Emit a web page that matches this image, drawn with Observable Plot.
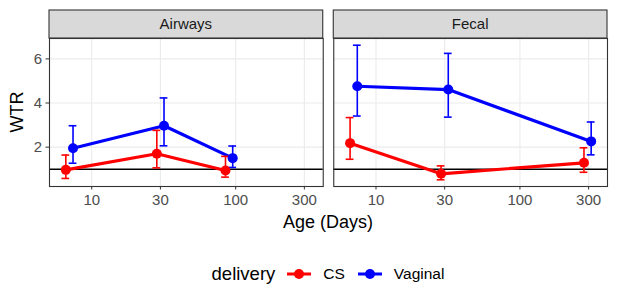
<!DOCTYPE html>
<html>
<head>
<meta charset="utf-8">
<script src="https://cdn.jsdelivr.net/npm/d3@7"></script>
<script src="https://cdn.jsdelivr.net/npm/@observablehq/plot@0.6"></script>
<style>
  body { margin: 0; background: white; font-family: "Liberation Sans", Arial, sans-serif; }
  #wrap { width: 617px; }
  .legend { display: flex; align-items: center; justify-content: center; height: 48px; padding-left: 52px; box-sizing: border-box; width: 617px; }
  .legend .title { font-size: 18.5px; color: #000; margin-right: 12px; }
  .legend .lab { font-size: 15.5px; color: #000; margin-left: 12px; margin-right: 13px; }
</style>
</head>
<body>
<div id="wrap"></div>
<script>
// ---- data ----
const panels = ["Airways", "Fecal"];
const deliveries = ["CS", "Vaginal"];
const colors = ["#FF0000", "#0000FF"];
const xTicks = [10, 30, 100, 300];
const yTicks = [2, 4, 6];

const airwaysAges = [7, 30, 90];
const fecalAges = [7, 30, 295];

const airwaysCS = [0.97, 1.70, 0.94];
const airwaysCSLo = [0.58, 1.06, 0.64];
const airwaysCSHi = [1.64, 2.76, 1.58];
const airwaysVag = [1.95, 2.97, 1.50];
const airwaysVagLo = [1.27, 2.06, 1.08];
const airwaysVagHi = [2.97, 4.23, 2.05];

const fecalCS = [2.18, 0.79, 1.29];
const fecalCSLo = [1.45, 0.52, 0.86];
const fecalCSHi = [3.34, 1.15, 1.97];
const fecalVag = [4.76, 4.61, 2.26];
const fecalVagLo = [3.41, 3.36, 1.65];
const fecalVagHi = [6.62, 6.25, 3.14];

// ---- build table ----
const dodge = 0.025;   // log10 dodge offset
const capHalf = 0.027; // log10 half-width of error bar caps
const rows = [];
function add(site, delivery, ages, v, lo, hi) {
  ages.forEach((a, i) => rows.push({site, delivery, age: a, wtr: v[i], lo: lo[i], hi: hi[i]}));
}
add("Airways", "CS", airwaysAges, airwaysCS, airwaysCSLo, airwaysCSHi);
add("Airways", "Vaginal", airwaysAges, airwaysVag, airwaysVagLo, airwaysVagHi);
add("Fecal", "CS", fecalAges, fecalCS, fecalCSLo, fecalCSHi);
add("Fecal", "Vaginal", fecalAges, fecalVag, fecalVagLo, fecalVagHi);
rows.forEach(d => { d.xd = d.age * Math.pow(10, d.delivery === "CS" ? -dodge : dodge); });

// domains like ggplot (5% expansion)
const lx = rows.map(d => Math.log10(d.xd));
const lx0 = d3.min(lx) - capHalf, lx1 = d3.max(lx) + capHalf;
const xDomain = [Math.pow(10, lx0 - 0.05 * (lx1 - lx0)), Math.pow(10, lx1 + 0.05 * (lx1 - lx0))];
const y0 = d3.min(rows, d => d.lo), y1 = d3.max(rows, d => d.hi);
const yDomain = [y0 - 0.05 * (y1 - y0), y1 + 0.05 * (y1 - y0)];

const W = 617, H = 250, mT = 38, mB = 64, mL = 49, mR = 10;
const capF = Math.pow(10, capHalf);

const chart = Plot.plot({
  width: W, height: H,
  marginTop: mT, marginBottom: mB, marginLeft: mL, marginRight: mR,
  facet: {marginTop: 0, marginRight: 0, marginBottom: 0, marginLeft: 0},
  style: {fontFamily: "Liberation Sans, Arial, sans-serif", fontSize: "15px", color: "#4D4D4D", background: "white"},
  fx: {domain: panels, axis: null, paddingInner: 0.037, paddingOuter: 0, round: false},
  x: {type: "log", domain: xDomain, label: null},
  y: {domain: yDomain, label: null},
  color: {domain: deliveries, range: colors},
  marks: [
    Plot.gridX(xTicks, {stroke: "#EBEBEB", strokeOpacity: 1, strokeWidth: 1.1}),
    Plot.gridY(yTicks, {stroke: "#EBEBEB", strokeOpacity: 1, strokeWidth: 1.1}),
    Plot.axisX(xTicks, {tickSize: 3.5, tickPadding: 4, text: d => String(d), stroke: "#333333", fill: "#4D4D4D", label: null}),
    Plot.axisY(yTicks, {tickSize: 3.5, tickPadding: 4, stroke: "#333333", fill: "#4D4D4D", label: null}),
    Plot.ruleY([1], {stroke: "black", strokeWidth: 1.4}),
    Plot.line(rows, {fx: "site", x: "xd", y: "wtr", stroke: "delivery", z: "delivery", strokeWidth: 3.2}),
    Plot.ruleX(rows, {fx: "site", x: "xd", y1: "lo", y2: "hi", stroke: "delivery", strokeWidth: 1.6}),
    Plot.ruleY(rows, {fx: "site", y: "lo", x1: d => d.xd / capF, x2: d => d.xd * capF, stroke: "delivery", strokeWidth: 1.6}),
    Plot.ruleY(rows, {fx: "site", y: "hi", x1: d => d.xd / capF, x2: d => d.xd * capF, stroke: "delivery", strokeWidth: 1.6}),
    Plot.dot(rows, {fx: "site", x: "xd", y: "wtr", fill: "delivery", r: 5}),
    Plot.frame({stroke: "#333333", strokeWidth: 1.1})
  ]
});

// strips, axis titles
const svg = d3.select(chart);
const fx = chart.scale("fx");
const bw = fx.bandwidth;
const strips = svg.append("g");
panels.forEach(p => {
  const x0 = fx.apply(p);
  strips.append("rect").attr("x", x0).attr("y", 10).attr("width", bw).attr("height", mT - 10)
    .attr("fill", "#D9D9D9").attr("stroke", "#333333").attr("stroke-width", 1.1);
  strips.append("text").attr("x", x0 + bw / 2).attr("y", 24).attr("dy", "0.35em")
    .attr("text-anchor", "middle").attr("fill", "#1A1A1A").attr("font-size", "15px").text(p);
});
const plotLeft = fx.apply(panels[0]);
const plotRight = fx.apply(panels[panels.length - 1]) + bw;
svg.append("text").attr("x", (plotLeft + plotRight) / 2).attr("y", 228)
  .attr("text-anchor", "middle").attr("fill", "#000").attr("font-size", "18px").text("Age (Days)");
svg.append("text").attr("transform", `translate(23,${(mT + H - mB) / 2}) rotate(-90)`)
  .attr("text-anchor", "middle").attr("fill", "#000").attr("font-size", "18px").text("WTR");

const wrap = document.getElementById("wrap");
wrap.appendChild(chart);

// legend
const leg = document.createElement("div");
leg.className = "legend";
const t = document.createElement("span"); t.className = "title"; t.textContent = "delivery"; leg.appendChild(t);
deliveries.forEach((d, i) => {
  const s = d3.create("svg").attr("width", 24).attr("height", 18);
  s.append("line").attr("x1", 0).attr("x2", 24).attr("y1", 9).attr("y2", 9).attr("stroke", colors[i]).attr("stroke-width", 3);
  s.append("circle").attr("cx", 12).attr("cy", 9).attr("r", 5).attr("fill", colors[i]);
  leg.appendChild(s.node());
  const l = document.createElement("span"); l.className = "lab"; l.textContent = d; leg.appendChild(l);
});
wrap.appendChild(leg);
</script>
</body>
</html>
